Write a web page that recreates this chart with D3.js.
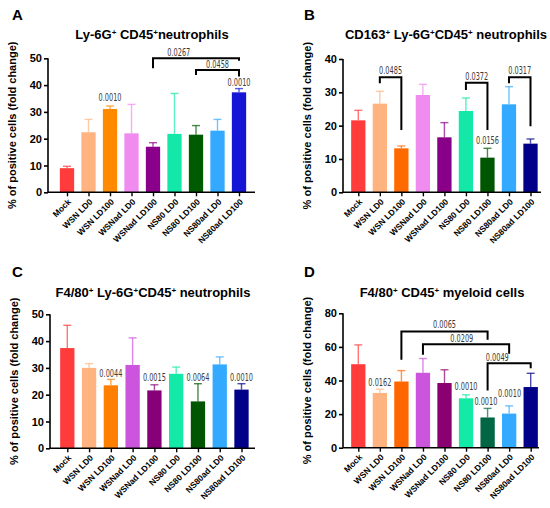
<!DOCTYPE html>
<html>
<head>
<meta charset="utf-8">
<script src="https://cdn.jsdelivr.net/npm/d3@7"></script>
<style>
  body { margin: 0; background: #fff; }
  svg { display: block; font-family: "Liberation Sans", Arial, sans-serif; }
</style>
</head>
<body>
<svg id="chart" width="550" height="508"></svg>
<script>
var groups = ["Mock", "WSN LD0", "WSN LD100", "WSNad LD0", "WSNad LD100",
              "NS80 LD0", "NS80 LD100", "NS80ad LD0", "NS80ad LD100"];

var yLabel = "% of positive cells (fold change)";

// panel A
var aTitle = ["Ly-6G", "+", " CD45", "+", "neutrophils"];
var aTicks = [0, 10, 20, 30, 40, 50];
var aMeans = [9.0, 22.4, 31.1, 22.0, 17.0, 21.8, 21.5, 23.0, 37.3];
var aErrors = [9.7, 27.2, 32.2, 32.8, 18.5, 36.9, 24.9, 27.2, 38.7];
var aColors = ["#ff3b3b", "#ffb380", "#ff8a00", "#f08cf0", "#8a008a", "#14e8a8", "#005a00", "#33aaff", "#1515d5"];
// [from, to, bar level, left leg end, right leg end, p, label pos, label level]
var aBrackets = [[4, 8, 50.0, 46.3, 49.1, "0.0267", 5.2, 52.4],
                 [6, 8, 45.6, 43.8, 43.2, "0.0458", 7.0, 47.9]];
var aPvalues = [[2, 35.3, "0.0010"], [8, 41.0, "0.0010"]];

// panel B
var bTitle = ["CD163", "+", " Ly-6G", "+", "CD45", "+", " neutrophils"];
var bTicks = [0, 10, 20, 30, 40];
var bMeans = [21.6, 26.6, 13.2, 29.2, 16.5, 24.4, 10.4, 26.4, 14.6];
var bErrors = [24.6, 30.3, 13.9, 32.4, 20.9, 28.3, 13.2, 31.7, 16.0];
var bColors = ["#ff3b3b", "#ffb380", "#ff6a00", "#f08cf0", "#880088", "#14e8a8", "#005500", "#33aaff", "#000088"];
var bBrackets = [[1, 2, 34.5, 32.7, 18.7, "0.0485", 1.5, 36.5],
                 [5, 6, 32.9, 30.7, 18.7, "0.0372", 5.5, 34.9],
                 [7, 8, 34.5, 32.7, 19.8, "0.0317", 7.5, 36.5]];
var bPvalues = [[6, 15.5, "0.0156"]];

// panel C
var cTitle = ["F4/80", "+", " Ly-6G", "+", "CD45", "+", " neutrophils"];
var cTicks = [0, 10, 20, 30, 40, 50];
var cMeans = [37.4, 30.0, 23.5, 31.1, 21.6, 27.8, 17.5, 31.3, 21.9];
var cErrors = [45.9, 31.6, 25.7, 41.2, 23.7, 30.3, 24.1, 34.1, 24.1];
var cColors = ["#ff3b3b", "#ffb380", "#ff8000", "#cc55dd", "#880077", "#14eaa8", "#005500", "#33aaff", "#000088"];
var cBrackets = [];
var cPvalues = [[2, 28.0, "0.0044"], [4, 26.7, "0.0015"], [6, 26.7, "0.0064"], [8, 26.7, "0.0010"]];

// panel D
var dTitle = ["F4/80", "+", " CD45", "+", " myeloid cells"];
var dTicks = [0, 20, 40, 60, 80];
var dMeans = [49.7, 32.6, 39.4, 44.6, 38.5, 29.4, 18.0, 20.3, 36.1];
var dErrors = [61.2, 34.8, 45.9, 53.1, 46.4, 31.5, 23.4, 24.9, 44.3];
var dColors = ["#ff3b3b", "#ffb380", "#ff6600", "#cc55dd", "#8b0070", "#14eaa8", "#006644", "#33aaff", "#000088"];
var dBrackets = [[2, 6, 69.2, 52.3, 64.2, "0.0065", 4.0, 73.6],
                 [3, 7, 61.6, 55.3, 55.9, "0.0209", 4.8, 65.2],
                 [6, 8, 50.3, 34.0, 47.3, "0.0049", 6.45, 53.9]];
var dPvalues = [[1, 39.2, "0.0162"], [5, 36.8, "0.0010"], [5.92, 27.6, "0.0010"], [7.02, 32.6, "0.0010"]];

var panels = [
  { letter: "A", title: aTitle, ticks: aTicks, means: aMeans, errors: aErrors, colors: aColors,
    brackets: aBrackets, pvalues: aPvalues,
    axisX: 48, firstX: 67, lastX: 239, endX: 255, top: 58.3, bottom: 192.3,
    titleX: 152, titleY: 39, letterX: 12, letterY: 20 },
  { letter: "B", title: bTitle, ticks: bTicks, means: bMeans, errors: bErrors, colors: bColors,
    brackets: bBrackets, pvalues: bPvalues,
    axisX: 343, firstX: 358.3, lastX: 530.5, endX: 541, top: 59, bottom: 192.3,
    titleX: 446, titleY: 39, letterX: 304, letterY: 19.5 },
  { letter: "C", title: cTitle, ticks: cTicks, means: cMeans, errors: cErrors, colors: cColors,
    brackets: cBrackets, pvalues: cPvalues,
    axisX: 50, firstX: 67.3, lastX: 241.5, endX: 255, top: 314.3, bottom: 448.3,
    titleX: 153, titleY: 297, letterX: 12, letterY: 276.5 },
  { letter: "D", title: dTitle, ticks: dTicks, means: dMeans, errors: dErrors, colors: dColors,
    brackets: dBrackets, pvalues: dPvalues,
    axisX: 343, firstX: 358.3, lastX: 530.7, endX: 539, top: 313.3, bottom: 447.7,
    titleX: 442, titleY: 297, letterX: 304, letterY: 277 }
];

var svg = d3.select("#chart");
var BAR_W = 14.3;
var P_WIDTH = 23; // p-value labels are set in a condensed face
var P_FONT = "'Liberation Sans Narrow', 'DejaVu Sans Condensed', sans-serif";

function pText(g, xPos, yPos, txt) {
  var t = g.append("text").attr("text-anchor", "middle")
    .style("font-family", P_FONT).style("font-size", "11px")
    .attr("fill", "#3a3a3a").text(txt);
  // squeeze horizontally so the label is as narrow as in the figure
  var k = Math.min(1, P_WIDTH / t.node().getComputedTextLength());
  t.attr("transform", "translate(" + xPos + "," + yPos + ") scale(" + k + ",1)");
}

function drawPanel(p) {
  var g = svg.append("g");

  var x = d3.scalePoint().domain(groups).range([p.firstX, p.lastX]);
  var y = d3.scaleLinear().domain([0, d3.max(p.ticks)]).range([p.bottom, p.top]);
  var xAt = function(i) { return p.firstX + i * x.step(); };

  // panel letter + title
  g.append("text").attr("x", p.letterX).attr("y", p.letterY)
    .style("font-size", "15px").style("font-weight", "bold").text(p.letter);

  var title = g.append("text").attr("x", p.titleX).attr("y", p.titleY)
    .attr("text-anchor", "middle").style("font-size", "13px").style("font-weight", "bold");
  p.title.forEach(function(s, i) {
    var t = title.append("tspan").text(s);
    if (i % 2 == 1) t.attr("baseline-shift", "super").style("font-size", "8px");
  });

  // y axis title
  g.append("text")
    .attr("transform", "translate(" + (p.axisX - 32) + "," + ((p.top + p.bottom) / 2) + ") rotate(-90)")
    .attr("text-anchor", "middle").style("font-size", "11px").style("font-weight", "bold")
    .text(yLabel);

  // bars
  g.selectAll(".bar").data(p.means).enter().append("rect")
    .attr("x", function(d, i) { return x(groups[i]) - BAR_W / 2; })
    .attr("y", function(d) { return y(d); })
    .attr("width", BAR_W)
    .attr("height", function(d) { return y(0) - y(d); })
    .attr("fill", function(d, i) { return p.colors[i]; });

  // error bars (upper only)
  var eb = g.selectAll(".err").data(p.errors).enter().append("g")
    .attr("stroke", function(d, i) { return p.colors[i]; })
    .attr("stroke-opacity", 0.7).attr("stroke-width", 1.4);
  eb.append("line")
    .attr("x1", function(d, i) { return x(groups[i]); })
    .attr("x2", function(d, i) { return x(groups[i]); })
    .attr("y1", function(d, i) { return y(p.means[i]); })
    .attr("y2", function(d) { return y(d); });
  eb.append("line")
    .attr("x1", function(d, i) { return x(groups[i]) - 4; })
    .attr("x2", function(d, i) { return x(groups[i]) + 4; })
    .attr("y1", function(d) { return y(d); })
    .attr("y2", function(d) { return y(d); });

  // y axis
  var ya = g.append("g").attr("transform", "translate(" + p.axisX + ",0)")
    .call(d3.axisLeft(y).tickValues(p.ticks).tickSize(4).tickPadding(2));
  ya.select(".domain").attr("stroke-width", 1.6).attr("d", "M0," + p.top + "V" + p.bottom);
  ya.selectAll(".tick line").attr("stroke-width", 1.6);
  ya.selectAll(".tick text").style("font-size", "11px").style("font-weight", "bold")
    .style("font-family", "'Liberation Sans', Arial, sans-serif").attr("fill", "#000");

  // x axis
  var xa = g.append("g").attr("transform", "translate(0," + p.bottom + ")")
    .call(d3.axisBottom(x).tickSize(4).tickSizeOuter(0));
  xa.select(".domain").attr("stroke-width", 1.6).attr("d", "M" + p.axisX + ",0H" + p.endX);
  xa.selectAll(".tick line").attr("stroke-width", 1.4);
  xa.selectAll(".tick text")
    .attr("text-anchor", "end").attr("dy", null).attr("y", 0)
    .attr("transform", "translate(4,10) rotate(-45)")
    .style("font-size", "8.5px").style("font-weight", "bold")
    .style("font-family", "'Liberation Sans', Arial, sans-serif").attr("fill", "#000");

  // comparison brackets
  p.brackets.forEach(function(b) {
    var x1 = xAt(b[0]), x2 = xAt(b[1]);
    g.append("path")
      .attr("d", "M" + x1 + "," + y(b[3]) + "V" + y(b[2]) + "H" + x2 + "V" + y(b[4]))
      .attr("fill", "none").attr("stroke", "#000").attr("stroke-width", 2);
    pText(g, xAt(b[6]), y(b[7]) + 3.8, b[5]);
  });

  // single p-values
  p.pvalues.forEach(function(v) {
    pText(g, xAt(v[0]), y(v[1]) + 3.8, v[2]);
  });
}

panels.forEach(drawPanel);
</script>
</body>
</html>
